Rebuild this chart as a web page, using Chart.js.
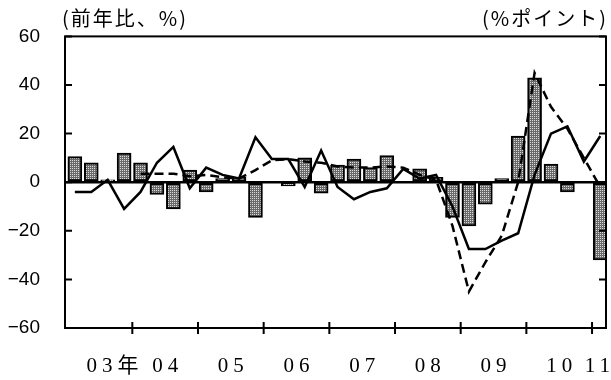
<!DOCTYPE html>
<html lang="ja">
<head>
<meta charset="utf-8">
<title>前年比</title>
<script src="https://cdn.jsdelivr.net/npm/chart.js@4.4.0/dist/chart.umd.min.js"></script>
<style>
  html, body { margin: 0; padding: 0; background: #fff; }
  canvas { display: block; }
</style>
</head>
<body>
<canvas id="chart" width="611" height="380"></canvas>
<script>
// Quý 1/2003 .. quý 1/2011 (33 quý)
var yearLabels = ['03年', '04', '05', '06', '07', '08', '09', '10', '11'];

// Cột (前年比、%)
var barValues = [10.5, 8, 1, 12, 8, -5, -11, 5, -4, 1.5, 2, -14.5, 0, -1.5, 10, -4.5,
    7, 9.5, 6, 11, 0, 5.5, 2, -14.5, -18, -9, 1.5, 19, 43, 7.5, -4, 0, -32];

// Đường liền
var solidValues = [-4, -4, 1, -11, -4, 8, 14.5, -2.5, 6, 3, 1.5, 18.5, 9.5, 9.5, -2, 13,
    -2, -7, -4, -2.5, 5.5, 1.5, 3, -10, -27.5, -27.5, -24, -21, 3, 20, 23, 8.5, 19];

// Đường nét đứt (bắt đầu từ 2004)
var dashedValues = [null, null, null, null, 3.5, 3.5, 3.5, 2.5, 3, 2, 1.5, 5, 9, 9.5, 8.5, 8,
    6.5, 6, 6, 6.5, 6, 3, 1, -18, -45, -33, -22, 0, 45, 31, 22, 10, -2];

var leftTitle = '(前年比、%)';
var rightTitle = '(%ポイント)';

var quarterCount = barValues.length;

// chuyển sang {x, y}, x = tâm của quý
function toPoints(values) {
    var pts = [];
    values.forEach(function (v, i) {
        if (v !== null) pts.push({ x: i + 0.5, y: v });
    });
    return pts;
}

var canvas = document.getElementById('chart');
var ctx = canvas.getContext('2d');

// nền chấm cho cột
function makeDotPattern() {
    var c = document.createElement('canvas');
    c.width = 2; c.height = 2;
    var p = c.getContext('2d');
    p.fillStyle = '#6a6a6a';
    p.fillRect(0, 0, 2, 2);
    p.fillStyle = '#dcdcdc';
    p.fillRect(0, 0, 1, 1);
    return ctx.createPattern(c, 'repeat');
}

// khung, vạch chia, nhãn năm và tiêu đề
var framePlugin = {
    id: 'framePlugin',
    afterDatasetsDraw: function (chart) {
        var c = chart.ctx, a = chart.chartArea;
        var xs = chart.scales.x, ys = chart.scales.y;
        c.save();
        c.strokeStyle = '#000';
        c.lineWidth = 2;
        c.strokeRect(a.left, a.top, a.right - a.left, a.bottom - a.top);

        c.beginPath();
        ys.ticks.forEach(function (t) {
            var py = ys.getPixelForValue(t.value);
            c.moveTo(a.left, py); c.lineTo(a.left + 7, py);
            c.moveTo(a.right, py); c.lineTo(a.right - 7, py);
        });
        for (var q = 4; q < quarterCount; q += 4) {
            var px = xs.getPixelForValue(q);
            c.moveTo(px, a.bottom - 6); c.lineTo(px, a.bottom + 6);
        }
        c.stroke();

        // nhãn năm: phần số nằm giữa năm
        c.fillStyle = '#000';
        c.font = '21px "Liberation Serif", "Noto Sans CJK JP"';
        c.letterSpacing = '5px';
        c.textBaseline = 'middle';
        c.textAlign = 'left';
        yearLabels.forEach(function (lab, k) {
            var start = k * 4, end = Math.min(start + 4, quarterCount);
            var cx = xs.getPixelForValue((start + end) / 2);
            var digits = lab.replace('年', '');
            var wd = c.measureText(digits).width - 5;
            var full = c.measureText(lab).width - 5;
            var left = cx - wd / 2;
            if (left + full > chart.width - 1) left = chart.width - 1 - full;
            c.fillText(lab, left, 366);
        });

        c.letterSpacing = '2px';
        c.font = '20px "Noto Sans CJK JP"';
        c.textAlign = 'left';
        c.fillText(leftTitle, a.left - 3, 18);
        c.textAlign = 'right';
        c.fillText(rightTitle, a.right + 2, 18);
        c.restore();
    }
};

new Chart(ctx, {
    type: 'bar',
    data: {
        datasets: [{
            type: 'line',
            data: toPoints(solidValues),
            borderColor: '#000',
            borderWidth: 2.5,
            pointRadius: 0,
            tension: 0,
            order: 1
        }, {
            type: 'line',
            data: toPoints(dashedValues),
            borderColor: '#000',
            borderWidth: 2.5,
            borderDash: [9, 5],
            pointRadius: 0,
            tension: 0,
            order: 2
        }, {
            type: 'bar',
            data: toPoints(barValues),
            backgroundColor: makeDotPattern(),
            borderColor: '#000',
            borderWidth: 2,
            borderSkipped: false,
            barThickness: 14,
            order: 3
        }]
    },
    options: {
        responsive: false,
        animation: false,
        layout: { padding: { top: 34 } },
        plugins: { legend: { display: false }, tooltip: { enabled: false } },
        scales: {
            x: {
                type: 'linear', min: -0.1, max: 32.85, offset: false,
                ticks: { display: false },
                grid: { display: false },
                border: { display: false },
                afterFit: function (s) { s.height = 52; }
            },
            y: {
                min: -60, max: 60,
                ticks: {
                    stepSize: 20, padding: 25, color: '#000',
                    font: { family: '"Liberation Sans", Arial', size: 19 },
                    callback: function (v) { return v < 0 ? '\u2212' + Math.abs(v) : String(v); }
                },
                grid: {
                    drawTicks: false,
                    color: function (c) { return c.tick && c.tick.value === 0 ? '#000' : 'rgba(0,0,0,0)'; },
                    lineWidth: 2.5
                },
                border: { display: false },
                afterFit: function (s) { s.width = 65; }
            },
            y2: {
                position: 'right', min: -60, max: 60,
                ticks: { display: false },
                grid: { display: false },
                border: { display: false },
                afterFit: function (s) { s.width = 5; }
            }
        }
    },
    plugins: [framePlugin]
});
</script>
</body>
</html>
